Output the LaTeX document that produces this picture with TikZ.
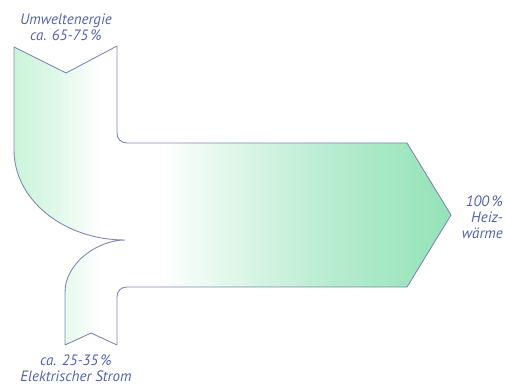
\documentclass[tikz,border=0pt]{standalone}
\usepackage{fontspec}
\setmainfont{PT Sans}
\usepackage{xcolor}
\usepackage{tikz}
\usetikzlibrary{positioning}

\definecolor{flowline}{RGB}{128,136,180}
\definecolor{flowtext}{RGB}{84,100,172}
\definecolor{greenlo}{RGB}{204,244,218}
\definecolor{greenhi}{RGB}{148,227,184}

\pgfdeclarehorizontalshading{heatflow}{100bp}{%
  color(0bp)=(greenlo); color(25bp)=(greenlo); color(29bp)=(greenlo!70!white);
  color(35bp)=(white); color(42bp)=(white); color(50bp)=(greenhi!30!white);
  color(62bp)=(greenhi!70!white); color(75bp)=(greenhi); color(100bp)=(greenhi)}

\begin{document}
\begin{tikzpicture}[
    x=1pt, y=-1pt,
    font=\itshape\fontsize{15}{16}\selectfont,
    flow/.style={draw=flowline, line width=0.9pt, shading=heatflow, line join=round},
    lbl/.style={text=flowtext, align=center, inner sep=0pt}
  ]
    \useasboundingbox (0,0) rectangle (505,387);
    % Waermepumpe: Umweltenergie + Strom -> Heizwaerme
    \path[flow] (14,47) -- (66,73) -- (117,46) -- (117,133)
      .. controls (117,139) and (121,143) .. (127,143) -- (407,143)
      -- (451,215) -- (407,287) -- (127,287)
      .. controls (121,287) and (117,291) .. (117,297) -- (117,345)
      -- (91,333) -- (65,345) -- (65,292)
      .. controls (65,263) and (98,240) .. (125,240)
      .. controls (64,240) and (14,200) .. (14,150) -- cycle;
    \node[lbl] (umwelt) at (66,27) {Umweltenergie\\ca. 65-75\,\%};
    \node[lbl] (strom) at (76,368) {ca. 25-35\,\%\\Elektrischer Strom};
    \node[lbl, align=right, anchor=east] (heiz) at (503,217) {100\,\%\\Heiz-\\wärme};
\end{tikzpicture}
\end{document}
